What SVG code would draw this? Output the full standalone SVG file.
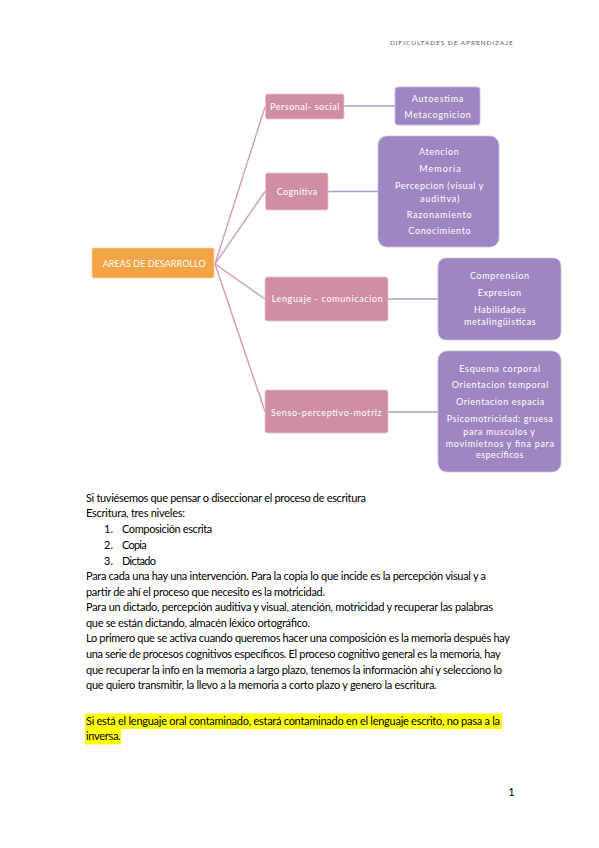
<svg xmlns="http://www.w3.org/2000/svg" width="599" height="848" viewBox="0 0 599 848">
<style>
.bx{font-family:Lato,"Liberation Sans",sans-serif;font-size:9px;fill:#ffffff}
.body{font-family:Lato,"Liberation Sans",sans-serif;font-size:11px;fill:#000000}
.pk{fill:#CF8EA4;stroke:#E9C3D0;stroke-width:0.8}
.pu{fill:#9D86C1;stroke:#C9BBDF;stroke-width:0.8}
.or{fill:#F2A446;stroke:#F8D0A0;stroke-width:0.8}
.lp{stroke:#D49AB0;stroke-width:1.4;fill:none}
.lv{stroke:#AE9AD4;stroke-width:1.4;fill:none}
</style>
<rect width="599" height="848" fill="#ffffff"/>
<text x="390" y="45" font-family="Lato,'Liberation Sans',sans-serif" font-size="6.5" fill="#595959" textLength="122.7" lengthAdjust="spacing">DIFICULTADES DE APRENDIZAJE</text>

<g id="connectors">
<path class="lp" d="M215 264 L265 107"/>
<path class="lp" d="M215 264 L265 191.5"/>
<path class="lp" d="M215 264 L265 299"/>
<path class="lp" d="M215 264 L265 411.5"/>
<path class="lv" d="M344 106 L395 106"/>
<path class="lv" d="M328 191.5 L378 191.5"/>
<path class="lv" d="M388 299 L438 299"/>
<path class="lv" d="M388 412 L438 412"/>
</g>

<g id="areas">
<rect class="or" x="92" y="248" width="122" height="30" rx="2"/>
<text class="bx" x="102.7" y="266.5" textLength="103" lengthAdjust="spacing">AREAS DE DESARROLLO</text>
</g>
<g id="personal">
<rect class="pk" x="265.5" y="94" width="78.5" height="25" rx="2"/>
<text class="bx" x="270" y="110" textLength="69.3" lengthAdjust="spacing">Personal- social</text>
</g>
<g id="cognitiva">
<rect class="pk" x="265.5" y="173" width="62.5" height="37" rx="2"/>
<text class="bx" x="276.7" y="195" textLength="40.6" lengthAdjust="spacing">Cognitiva</text>
</g>
<g id="lenguaje">
<rect class="pk" x="265" y="277" width="123" height="44" rx="2.5"/>
<text class="bx" x="271.7" y="302" textLength="111" lengthAdjust="spacing">Lenguaje - comunicacion</text>
</g>
<g id="senso">
<rect class="pk" x="265" y="390" width="123" height="43" rx="2.5"/>
<text class="bx" x="271" y="415.5" textLength="110.7" lengthAdjust="spacing">Senso-perceptivo-motriz</text>
</g>
<g id="personal-items">
<rect class="pu" x="395" y="87" width="85" height="38" rx="3"/>
<text class="bx" x="411.7" y="101.5" textLength="51.6" lengthAdjust="spacing">Autoestima</text>
<text class="bx" x="404.3" y="118" textLength="66.4" lengthAdjust="spacing">Metacognicion</text>
</g>
<g id="cognitiva-items">
<rect class="pu" x="378" y="136" width="121" height="111" rx="9"/>
<text class="bx" x="419" y="155" textLength="39.7" lengthAdjust="spacing">Atencion</text>
<text class="bx" x="419.3" y="172" textLength="41.4" lengthAdjust="spacing">Memoria</text>
<text class="bx" x="395" y="189" textLength="88.3" lengthAdjust="spacing">Percepcion (visual y</text>
<text class="bx" x="420" y="201.5" textLength="39.3" lengthAdjust="spacing">auditiva)</text>
<text class="bx" x="406.7" y="217.5" textLength="65" lengthAdjust="spacing">Razonamiento</text>
<text class="bx" x="408.3" y="234" textLength="62.4" lengthAdjust="spacing">Conocimiento</text>
</g>
<g id="lenguaje-items">
<rect class="pu" x="438" y="258" width="123" height="82" rx="8"/>
<text class="bx" x="470" y="279" textLength="59" lengthAdjust="spacing">Comprension</text>
<text class="bx" x="477.7" y="296" textLength="43.3" lengthAdjust="spacing">Expresion</text>
<text class="bx" x="474" y="313" textLength="51.7" lengthAdjust="spacing">Habilidades</text>
<text class="bx" x="464" y="325" textLength="71.7" lengthAdjust="spacing">metalingüisticas</text>
</g>
<g id="senso-items">
<rect class="pu" x="438" y="351" width="123" height="121" rx="9"/>
<text class="bx" x="459.3" y="371.5" textLength="80.7" lengthAdjust="spacing">Esquema corporal</text>
<text class="bx" x="451.7" y="388" textLength="96.6" lengthAdjust="spacing">Orientacion temporal</text>
<text class="bx" x="456" y="405" textLength="88.3" lengthAdjust="spacing">Orientacion espacia</text>
<text class="bx" x="446.7" y="421.5" textLength="106" lengthAdjust="spacing">Psicomotricidad: gruesa</text>
<text class="bx" x="463.3" y="435" textLength="71.7" lengthAdjust="spacing">para musculos y</text>
<text class="bx" x="445.7" y="446.5" textLength="108.3" lengthAdjust="spacing">movimietnos y fina para</text>
<text class="bx" x="476" y="458" textLength="47.3" lengthAdjust="spacing">especificos</text>
</g>

<rect x="85" y="713.5" width="417" height="15.5" fill="#FFFF00"/>
<rect x="85" y="729" width="36" height="15.5" fill="#FFFF00"/>

<g class="body">
<text x="86" y="501.5" textLength="280" lengthAdjust="spacing">Si tuviésemos que pensar o diseccionar el proceso de escritura</text>
<text x="86" y="517" textLength="99" lengthAdjust="spacing">Escritura, tres niveles:</text>
<text x="104" y="533">1.</text>
<text x="122" y="533" textLength="90.3" lengthAdjust="spacing">Composición escrita</text>
<text x="104" y="549">2.</text>
<text x="122" y="549" textLength="24.7" lengthAdjust="spacing">Copia</text>
<text x="104" y="564.5">3.</text>
<text x="122" y="564.5" textLength="34" lengthAdjust="spacing">Dictado</text>
<text x="86" y="580" textLength="400" lengthAdjust="spacing">Para cada una hay una intervención. Para la copia lo que incide es la percepción visual y a</text>
<text x="86" y="595.5" textLength="239" lengthAdjust="spacing">partir de ahí el proceso que necesito es la motricidad.</text>
<text x="86" y="611" textLength="407" lengthAdjust="spacing">Para un dictado, percepción auditiva y visual, atención, motricidad y recuperar las palabras</text>
<text x="86" y="626.5" textLength="224" lengthAdjust="spacing">que se están dictando, almacén léxico ortográfico.</text>
<text x="86" y="642" textLength="424" lengthAdjust="spacing">Lo primero que se activa cuando queremos hacer una composición es la memoria después hay</text>
<text x="86" y="658" textLength="414.7" lengthAdjust="spacing">una serie de procesos cognitivos específicos. El proceso cognitivo general es la memoria, hay</text>
<text x="86" y="673.5" textLength="416" lengthAdjust="spacing">que recuperar la info en la memoria a largo plazo, tenemos la información ahí y selecciono lo</text>
<text x="86" y="689" textLength="350.7" lengthAdjust="spacing">que quiero transmitir, la llevo a la memoria a corto plazo y genero la escritura.</text>
<text x="86" y="724.5" textLength="414" lengthAdjust="spacing">Si está el lenguaje oral contaminado, estará contaminado en el lenguaje escrito, no pasa a la</text>
<text x="86" y="740" textLength="34.7" lengthAdjust="spacing">inversa.</text>
<text x="508.3" y="796">1</text>
</g>
</svg>
